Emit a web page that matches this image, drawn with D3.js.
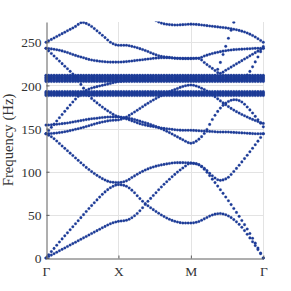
<!DOCTYPE html>
<html>
<head>
<meta charset="utf-8">
<script src="https://cdn.jsdelivr.net/npm/d3@7"></script>
<style>
  html, body { margin: 0; padding: 0; background: #fff; }
  svg { display: block; }
</style>
</head>
<body>
<div id="chart"></div>
<script>

/* Data */
/* ---- */

// sampling grid along the path Γ-X-M-Γ (0..3)
var kPoints = [0, 0.1, 0.2, 0.3, 0.4, 0.5, 0.6, 0.7, 0.8, 0.9, 1,
               1.1, 1.2, 1.3, 1.4, 1.5, 1.6, 1.7, 1.8, 1.9, 2,
               2.1, 2.2, 2.3, 2.4, 2.5, 2.6, 2.7, 2.8, 2.9, 3];

var kTickValues = [0, 1, 2, 3];
var kTickLabels = ['\u0393', 'X', 'M', '\u0393'];
var fTickValues = [0, 50, 100, 150, 200, 250];
var fMax = 273.5;

// dispersive branches, frequency (Hz) at each kPoint (null = off chart)
var band1 = [0, 4.5, 9, 13.5, 18, 22.5, 27, 31.5, 36, 40, 42.5,
             43.5, 47.5, 55, 65, 74, 83, 91, 98.5, 105, 110,
             108.5, 101.5, 91, 80, 68.5, 56.5, 44, 30.5, 15.5, 0];
var band2 = [0, 10, 20, 29.5, 39, 48.5, 58, 67, 75.5, 82, 85,
             83.5, 77.5, 68.5, 61, 55, 49.5, 45, 42, 40.5, 40.5,
             42, 46, 50, 51.5, 49.5, 44, 36, 25, 13, 0];
var band3 = [144, 139, 131.5, 124, 116.5, 109, 102, 96, 91, 88, 87.5,
             89, 94, 99, 103, 106, 108, 109.5, 110.5, 110.5, 110,
             108.5, 103, 95, 90, 92.5, 101, 111, 121.5, 132.5, 144];
var band4 = [144, 144.5, 145.5, 147, 149, 151, 153.5, 156, 158, 159.5, 160,
             163, 168, 173.5, 179, 184, 188.5, 192.5, 196, 199, 200.5,
             198.5, 194.5, 189, 182.5, 176.5, 171, 166.5, 162.5, 159, 156];
var band5 = [154, 154.5, 155.5, 156.5, 158, 159.5, 161, 162, 163, 163.5, 163.5,
             161.5, 158.5, 155.5, 153.5, 152, 150.5, 149.5, 148.5, 148, 148,
             147.5, 147, 146.5, 146, 146, 145.5, 145, 144.5, 144, 144];
var band6 = [243, 235, 227, 219, 210.5, 199, 187.5, 180, 173.5, 168, 163.5,
             162.5, 161, 158.5, 156, 153, 149.5, 145.5, 141, 136.5, 133,
             137, 146, 161, 173, 180.5, 183.5, 181, 173, 163, 152];
var band7 = [144, 154, 164, 174, 183.5, 191.5, 196, 198.5, 200.5, 202.5, 204.5,
             205.5, 206, 206, 206, 206, 206, 206, 206, 206, 206,
             206, 206, 206, 206, 206, 206, 207, 214.5, 229, 245];
var band8 = [250, 254.5, 259, 263.5, 268, 273, 270, 263.5, 256.5, 249.5, 246.5,
             246.5, 245, 242.5, 239.5, 236, 233.5, 232.5, 231.5, 231, 231,
             231.5, 225.5, 219.5, 214, 218.5, 223.5, 228.5, 233.5, 238.5, 243];
var band9 = [243, 242, 240.5, 238, 235, 232.5, 230, 228.5, 227.5, 227, 227,
             227.5, 228.5, 229.5, 230.5, 231.5, 232, 232, 231.5, 231.5, 231.5,
             231.5, 234.5, 237, 239, 240.5, 241.5, 242, 242.5, 243, 243];
var band10 = [null, null, null, null, null, null, null, null, null, null, null,
              null, null, null, 282, 276, 272, 270.5, 270, 270.5, 271,
              270.5, 269.5, 268.5, 267.5, 266.5, 265, 263, 260, 255.5, 250];
var band11 = [null, null, null, null, null, null, null, null, null, null, null,
              null, null, null, null, null, null, null, null, null, null,
              null, null, 205, 225, 250, 275, 300, null, null, null];

// flat (locally resonant) branches, Hz
var flatUpper = [204.6, 205.8, 207, 208.4, 209.6, 210.8, 211.8];
var flatLower = [188.3, 189.5, 190.7, 191.8, 192.8];


/* Globals */
/* ------- */

var vis = {};
vis.dims = { width: 291, height: 291 };
vis.margin = { left: 46, right: 27.7, top: 22, bottom: 33 };
vis.dotsPerSegment = 27;
vis.colour = '#1c3b97';


/* Setup */
/* ----- */

function setupVisual() {

  vis.svg = d3.select('#chart')
    .append('svg')
      .attr('width', vis.dims.width)
      .attr('height', vis.dims.height);

  vis.x = d3.scaleLinear()
    .domain([0, 3])
    .range([vis.margin.left, vis.dims.width - vis.margin.right]);

  vis.y = d3.scaleLinear()
    .domain([0, fMax])
    .range([vis.dims.height - vis.margin.bottom, vis.margin.top]);

  vis.svg.append('clipPath').attr('id', 'plot-clip')
    .append('rect')
      .attr('x', vis.margin.left - 4)
      .attr('y', vis.margin.top - 0.5)
      .attr('width', vis.x(3) - vis.margin.left + 8)
      .attr('height', vis.y(0) - vis.margin.top + 4);

} // setupVisual()

function drawGrid() {

  var g = vis.svg.append('g').attr('class', 'grid');

  g.selectAll('.grid-y')
    .data(fTickValues.filter(function(d) { return d > 0; }))
    .enter().append('line')
      .attr('x1', vis.x(0)).attr('x2', vis.x(3))
      .attr('y1', function(d) { return Math.round(vis.y(d)) + 0.5; })
      .attr('y2', function(d) { return Math.round(vis.y(d)) + 0.5; });

  g.selectAll('.grid-x')
    .data(kTickValues.filter(function(d) { return d > 0; }))
    .enter().append('line')
      .attr('x1', function(d) { return Math.round(vis.x(d)) + 0.5; })
      .attr('x2', function(d) { return Math.round(vis.x(d)) + 0.5; })
      .attr('y1', vis.y(0)).attr('y2', vis.y(fMax));

  g.selectAll('line')
    .attr('stroke', '#e3e3e3')
    .attr('stroke-width', 1);

} // drawGrid()

function drawAxes() {

  var yAxis = d3.axisLeft(vis.y)
    .tickValues(fTickValues)
    .tickSizeInner(-3)
    .tickSizeOuter(0)
    .tickPadding(5);

  var xAxis = d3.axisBottom(vis.x)
    .tickValues(kTickValues)
    .tickFormat(function(d, i) { return kTickLabels[i]; })
    .tickSizeInner(-3)
    .tickSizeOuter(0)
    .tickPadding(8);

  var gy = vis.svg.append('g')
    .attr('transform', 'translate(' + (vis.margin.left + 0.5) + ',0)')
    .call(yAxis);

  var gx = vis.svg.append('g')
    .attr('transform', 'translate(0,' + (vis.y(0) + 0.5) + ')')
    .call(xAxis);

  [gx, gy].forEach(function(g) {
    g.select('.domain').attr('stroke', '#5e5e5e');
    g.selectAll('.tick line').attr('stroke', '#5e5e5e');
    g.selectAll('.tick text')
      .attr('fill', '#333')
      .style('font-family', '"Liberation Serif", "DejaVu Serif", serif')
      .style('font-size', '13.5px');
  });

  gy.selectAll('.tick text').attr('dy', '0.34em');

  vis.svg.append('text')
    .attr('transform', 'translate(13,' + ((vis.y(0) + vis.y(fMax)) / 2) + ') rotate(-90)')
    .attr('text-anchor', 'middle')
    .attr('fill', '#333')
    .style('font-family', '"Liberation Serif", "DejaVu Serif", serif')
    .style('font-size', '14.7px')
    .text('Frequency (Hz)');

} // drawAxes()


/* Bands */
/* ----- */

// trace the monotone curve through a branch and pick a dot at every k step
function bandDots(values) {

  var line = d3.line()
    .defined(function(d) { return d[1] !== null; })
    .x(function(d) { return vis.x(d[0]); })
    .y(function(d) { return vis.y(d[1]); })
    .curve(d3.curveMonotoneX);

  var path = vis.svg.append('path')
    .attr('fill', 'none')
    .attr('d', line(kPoints.map(function(k, i) { return [k, values[i]]; })));

  var node = path.node(),
      len = node.getTotalLength(),
      trace = [];

  for (var s = 0; s < len; s += 0.4) trace.push(node.getPointAtLength(s));
  trace.push(node.getPointAtLength(len));
  path.remove();

  var n = vis.dotsPerSegment * 3, dots = [];

  for (var i = 0; i <= n; i++) {
    var tx = vis.x(3 * i / n);
    for (var j = 0; j < trace.length - 1; j++) {
      var a = trace[j], b = trace[j + 1];
      if (a.x <= tx + 0.01 && b.x >= tx - 0.01 && b.x - a.x < 2) {
        var t = b.x > a.x ? (tx - a.x) / (b.x - a.x) : 0;
        t = Math.max(0, Math.min(1, t));
        dots.push([tx, a.y + t * (b.y - a.y)]);
        break;
      }
    }
  }

  return dots;

} // bandDots()

function drawBands() {

  var branches = [band1, band2, band3, band4, band5, band6, band7,
                  band8, band9, band10, band11];

  flatUpper.concat(flatLower).forEach(function(f) {
    branches.push(kPoints.map(function() { return f; }));
  });

  var g = vis.svg.append('g')
    .attr('class', 'bands')
    .attr('clip-path', 'url(#plot-clip)');

  branches.forEach(function(values) {

    g.append('g').selectAll('circle')
      .data(bandDots(values))
      .enter().append('circle')
        .attr('cx', function(d) { return d[0]; })
        .attr('cy', function(d) { return d[1]; })
        .attr('r', 1.3)
        .attr('fill', vis.colour)
        .attr('stroke', vis.colour)
        .attr('stroke-opacity', 0.35)
        .attr('stroke-width', 0.8);

  });

} // drawBands()


/* Go */
/* -- */

setupVisual();
drawGrid();
drawBands();
drawAxes();

</script>
</body>
</html>
